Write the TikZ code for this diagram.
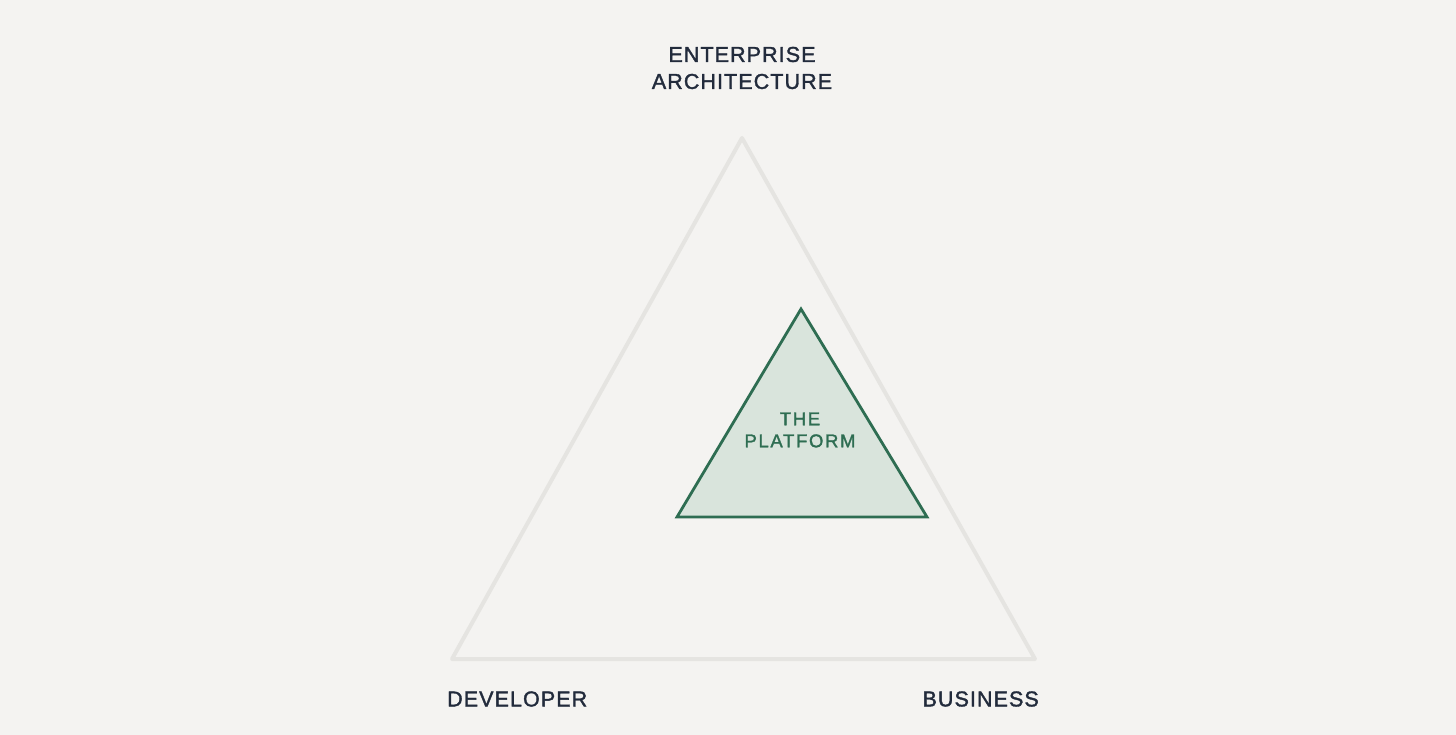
\documentclass[tikz,border=0pt]{standalone}
\usepackage{fontspec}
\setmainfont{Liberation Sans}
\usetikzlibrary{positioning}

\definecolor{bgcol}{HTML}{F4F3F1}
\definecolor{navy}{HTML}{222B3C}
\definecolor{outercol}{HTML}{E5E4E1}
\definecolor{platline}{HTML}{2E6D52}
\definecolor{platfill}{HTML}{D9E4DC}

\begin{document}
\begin{tikzpicture}[x=1pt, y=-1pt,
    label/.style={text=navy, inner sep=0pt, align=center, font=\fontsize{21.5}{27}\selectfont\addfontfeatures{LetterSpace=5,FakeBold=1.6}},
    platlabel/.style={text=platline, inner sep=0pt, align=center, font=\fontsize{18.5}{22}\selectfont\addfontfeatures{LetterSpace=9,FakeBold=1.6}}]
			% pozadi
			\fill[bgcol] (0,0) rectangle (1456,735);
			\useasboundingbox (0,0) rectangle (1456,735);
			
			% vrcholy velkeho trojuhelniku
			\coordinate (top) at (742,138);
			\coordinate (left) at (452,659);
			\coordinate (right) at (1035,659);
			
			% vrcholy platformy
			\coordinate (ptop) at (801,309);
			\coordinate (pleft) at (677,517);
			\coordinate (pright) at (927,517);
			
			% trojuhelniky
			\draw[outercol, line width=4pt, line join=round] (top)--(left)--(right)--cycle;
			\draw[platline, fill=platfill, line width=2.8pt, line join=miter] (ptop)--(pleft)--(pright)--cycle;
			
			% popisky vrcholu
			\node[label] (ea) at (742,68) {ENTERPRISE\\ARCHITECTURE};
			\node[label, anchor=west] (dev) at (447,699) {DEVELOPER};
			\node[label, anchor=east] (bus) at (1039,699) {BUSINESS};
			
			% popisek platformy
			\node[platlabel] (plat) at (800,430) {THE\\PLATFORM};
		\end{tikzpicture}
\end{document}
